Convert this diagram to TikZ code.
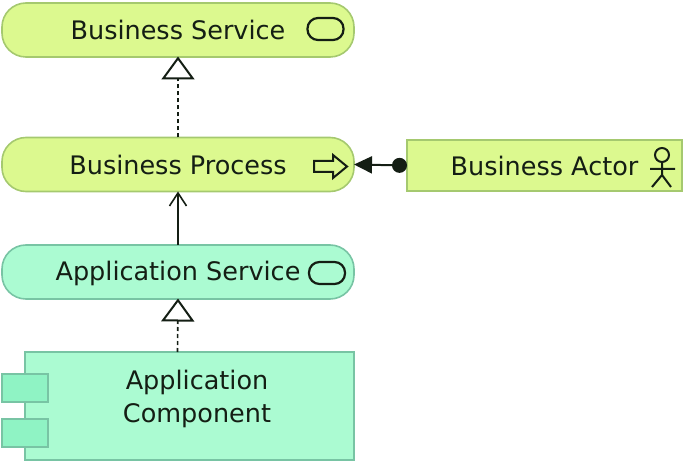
\documentclass[tikz,border=0pt]{standalone}
\usepackage{fontspec}
\setmainfont{DejaVu Sans}
\usetikzlibrary{arrows.meta}
\definecolor{bizfill}{HTML}{DCF98F}
\definecolor{bizedge}{HTML}{A5C96F}
\definecolor{appfill}{HTML}{ABFBD2}
\definecolor{appedge}{HTML}{78C4A4}
\definecolor{tabfill}{HTML}{8FF3C4}
\definecolor{ink}{HTML}{141E14}
\tikzset{
  x=1pt,y=-1pt,
  txt/.style={text=ink,font=\fontsize{25.5}{33}\selectfont,inner sep=0pt,outer sep=0pt},
  roundbox/.style={txt,draw,line width=1.6pt,rounded corners=24pt,minimum width=352pt,minimum height=54pt},
  biz/.style={draw=bizedge,fill=bizfill},
  app/.style={draw=appedge,fill=appfill},
  icon/.style={draw=ink,line width=2.2pt,rounded corners=10.5pt,minimum width=36pt,minimum height=22pt,inner sep=0pt},
  realizes/.style={draw=ink,line width=1.6pt,dash pattern=on 4pt off 3pt,shorten >=-0.5pt,-{Triangle[open,fill=white,length=23pt,width=33pt,line width=2pt]}},
  triggers/.style={draw=ink,line width=2pt,-{Straight Barb[length=13pt,width=17pt,line width=1.6pt]}},
  assign/.style={draw=ink,line width=2pt,{Circle[length=15pt]}-{Triangle[length=18pt,width=17pt]}},
  tabbox/.style={draw=appedge,fill=tabfill,line width=1.4pt,minimum width=46pt,minimum height=28pt,inner sep=0pt},
  figure/.style={draw=ink,line width=2pt}
}
\begin{document}
\begin{tikzpicture}
\useasboundingbox (0,0) rectangle (685,462);
\node[roundbox,biz] (bs) at (178,30) {Business Service};
\node[roundbox,biz] (bp) at (178,164.5) {Business Process};
\node[roundbox,app,text depth=2pt] (as) at (178,272) {Application Service};
\node[txt,rectangle,draw=appedge,fill=appfill,line width=1.6pt,minimum width=329pt,minimum height=108pt,align=center] (ac) at (189.5,406) {\hspace*{15pt}Application\\\hspace*{15pt}Component\\[-13pt]\mbox{}};
\node[tabbox] (t1) at (25,388) {};
\node[tabbox] (t2) at (25,433) {};
\node[txt,rectangle,draw=bizedge,fill=bizfill,line width=1.6pt,minimum width=275pt,minimum height=51pt] (ba) at (544.5,165.5) {Business Actor};
\node[icon] (i1) at (325.5,29) {};
\node[icon] (i2) at (327,273) {};
\draw[realizes] (bp.north) -- (bs.south);
\draw[realizes] ([xshift=-12pt]ac.north) -- (as.south);
\draw[triggers] (as.north) -- (bp.south);
\draw[assign] (ba.west) -- (bp.east);
% process arrow icon
\draw[figure,line join=miter,fill=none] (314,161) -- (333,161) -- (333,155) -- (347,166.5) -- (333,178) -- (333,172) -- (314,172) -- cycle;
% actor icon
\draw[figure] (662,155) circle (7pt);
\draw[figure] (662,162) -- (662,175) (650,169) -- (675,169) (652,187) -- (662,175) -- (671,187);
\end{tikzpicture}
\end{document}
